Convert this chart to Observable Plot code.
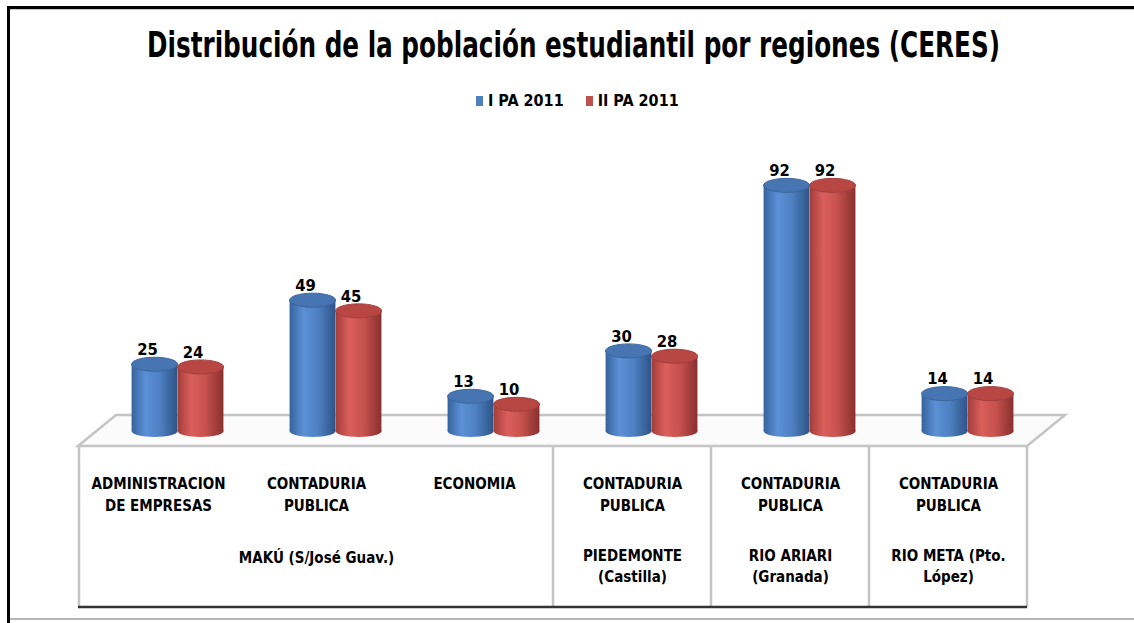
<!DOCTYPE html>
<html><head><meta charset="utf-8">
<script src="https://cdn.jsdelivr.net/npm/d3@7"></script>
<script src="https://cdn.jsdelivr.net/npm/@observablehq/plot@0.6"></script>
<style>
body{margin:0;background:#fff;}
#wrap{position:relative;width:1134px;height:623px;overflow:hidden;font-family:"Liberation Sans Narrow","DejaVu Sans Condensed","Liberation Sans",sans-serif;color:#000;}
#header{height:120px;position:relative;}
#title{position:absolute;left:147px;top:23px;font-weight:bold;font-size:35px;line-height:44px;white-space:nowrap;transform-origin:left center;}
#legend{position:absolute;top:91px;left:476px;display:flex;align-items:center;font-weight:bold;font-size:16px;white-space:nowrap;}
#legend .item{display:flex;align-items:center;margin-right:22px;}
#legend .sw{display:inline-block;width:7px;height:10px;margin-right:5px;}
.deco{position:absolute;}
svg{display:block;}
</style></head>
<body>
<div id="wrap">
  <div id="header"><div id="title"></div><div id="legend"></div></div>
  <div id="chart"></div>
  <div class="deco" style="left:7px;top:6px;width:1127px;height:3px;background:#000"></div>
  <div class="deco" style="left:10px;top:9px;width:1124px;height:1px;background:#c8c8c8"></div>
  <div class="deco" style="left:7px;top:6px;width:3px;height:617px;background:#000"></div>
  <div class="deco" style="left:10px;top:618px;width:1124px;height:2px;background:#b4b4b4"></div>
</div>
<script>
// ---- data ----
const titleText = "Distribución de la población estudiantil por regiones (CERES)";
const series = ["I PA 2011", "II PA 2011"];
const seriesColors = ["#4F81BD", "#C0504D"];
const programs = ["ADMINISTRACION\nDE EMPRESAS", "CONTADURIA\nPUBLICA", "ECONOMIA", "CONTADURIA\nPUBLICA", "CONTADURIA\nPUBLICA", "CONTADURIA\nPUBLICA"];
const regions = ["MAKÚ (S/José Guav.)", "MAKÚ (S/José Guav.)", "MAKÚ (S/José Guav.)", "PIEDEMONTE\n(Castilla)", "RIO ARIARI\n(Granada)", "RIO META (Pto.\nLópez)"];
const ipa2011 = [25, 49, 13, 30, 92, 14];
const iipa2011 = [24, 45, 10, 28, 92, 14];

const rows = programs.map((p, i) => ({key: String(i), program: p, region: regions[i], ipa: ipa2011[i], iipa: iipa2011[i]}));
// region spans
const spans = [];
regions.forEach((r, i) => {
  if (i > 0 && regions[i - 1] === r) spans[spans.length - 1].end = i;
  else spans.push({label: r, start: i, end: i});
});
const regionLabels = spans.map(s => ({key: String(Math.floor((s.start + s.end) / 2)), label: s.label, lines: s.label.split("\n").length}));

// ---- layout (styles) ----
const W = 1134, H = 503, mL = 78, mR = 107, mT = 44, mB = 192;
const colW = (W - mL - mR) / programs.length;
const barW = 46, pairOffset = -3.5; // blue bar centre relative to column centre
const blueL = colW / 2 + pairOffset - barW / 2;
const insets = [
  {insetLeft: blueL, insetRight: colW - blueL - barW},
  {insetLeft: blueL + barW, insetRight: colW - blueL - 2 * barW}
];
const fields = ["ipa", "iipa"];
const font = '"Liberation Sans Narrow","DejaVu Sans Condensed","Liberation Sans",sans-serif';

// header
const t = document.getElementById("title");
t.textContent = titleText;
const leg = document.getElementById("legend");
series.forEach((s, i) => {
  const it = document.createElement("div"); it.className = "item";
  const sw = document.createElement("span"); sw.className = "sw"; sw.style.background = seriesColors[i];
  const tx = document.createElement("span"); tx.textContent = s;
  it.append(sw, tx); leg.append(it);
});

function floorAndTable(index, scales, values, dims) {
  const {width, marginLeft, marginRight} = dims;
  const xL = marginLeft, xR = width - marginRight, y0 = scales.y(0);
  const yFront = y0 + 15, yBack = y0 - 16, depth = 38, yBottom = y0 + 176;
  const g = d3.create("svg:g");
  g.append("polygon")
    .attr("points", [[xL, yFront], [xL + depth, yBack], [xR + depth, yBack], [xR, yFront]].map(p => p.join(",")).join(" "))
    .attr("fill", "#fbfbfb").attr("stroke", "#c4c4c4").attr("stroke-width", 2.5);
  const xs = spans.map(s => scales.x(String(s.start))).concat([xR]);
  xs.forEach(x => g.append("line").attr("x1", x).attr("x2", x).attr("y1", yFront).attr("y2", yBottom)
    .attr("stroke", "#c4c4c4").attr("stroke-width", 2.5));
  g.append("line").attr("x1", xL).attr("x2", xR).attr("y1", yBottom).attr("y2", yBottom)
    .attr("stroke", "#333").attr("stroke-width", 2.5);
  const defs = g.append("defs");
  const grads = [
    ["#36639c", "#5b90d6", "#4f82c4", "#2e5487"],
    ["#a23d3a", "#da5f5b", "#c8524e", "#88302e"]
  ];
  grads.forEach((c, i) => {
    const lg = defs.append("linearGradient").attr("id", "cyl" + i).attr("x1", 0).attr("x2", 1).attr("y1", 0).attr("y2", 0);
    [[0, c[0]], [0.3, c[1]], [0.6, c[2]], [1, c[3]]].forEach(([o, col]) => lg.append("stop").attr("offset", o).attr("stop-color", col));
  });
  return g.node();
}

function caps(index, scales, values, dims) {
  const g = d3.create("svg:g");
  const tops = ["#4675b2", "#b84744"];
  const edges = ["#3a659d", "#a23e3b"];
  rows.forEach(r => {
    fields.forEach((f, i) => {
      const x0 = scales.x(r.key) + insets[i].insetLeft;
      const cx = x0 + barW / 2;
      const yt = scales.y(r[f]), yb = scales.y(0);
      g.append("ellipse").attr("cx", cx).attr("cy", yb).attr("rx", barW / 2).attr("ry", 6).attr("fill", `url(#cyl${i})`);
      g.append("ellipse").attr("cx", cx).attr("cy", yt).attr("rx", barW / 2).attr("ry", 7)
        .attr("fill", tops[i]).attr("stroke", edges[i]).attr("stroke-width", 1);
    });
  });
  return g.node();
}

const plot = Plot.plot({
  width: W, height: H,
  marginLeft: mL, marginRight: mR, marginTop: mT, marginBottom: mB,
  x: {domain: rows.map(d => d.key), padding: 0, axis: null},
  y: {domain: [0, 100], axis: null},
  style: {fontFamily: font, overflow: "visible", background: "transparent"},
  marks: [
    floorAndTable,
    Plot.barY(rows, {x: "key", y: "ipa", fill: "url(#cyl0)", ...insets[0]}),
    Plot.barY(rows, {x: "key", y: "iipa", fill: "url(#cyl1)", ...insets[1]}),
    caps,
    Plot.text(rows, {x: "key", y: "ipa", text: "ipa", dx: pairOffset - 7.5, dy: -15, fontSize: 16.5, fontWeight: "bold", fill: "#000"}),
    Plot.text(rows, {x: "key", y: "iipa", text: "iipa", dx: pairOffset + barW - 8, dy: -15, fontSize: 16.5, fontWeight: "bold", fill: "#000"}),
    Plot.text(rows, {x: "key", frameAnchor: "bottom", text: "program", lineAnchor: "top", lineHeight: 1.45, dy: 42, fontSize: 15, fontWeight: "bold", fill: "#000"}),
    Plot.text(regionLabels.filter(d => d.lines === 1), {x: "key", frameAnchor: "bottom", text: "label", lineAnchor: "middle", dy: 127, fontSize: 15, fontWeight: "bold", fill: "#000"}),
    Plot.text(regionLabels.filter(d => d.lines > 1), {x: "key", frameAnchor: "bottom", text: "label", lineAnchor: "middle", lineHeight: 1.45, dy: 133, fontSize: 15, fontWeight: "bold", fill: "#000"})
  ]
});
document.getElementById("chart").append(plot);

// fit title width to reference span
const tw = t.getBoundingClientRect().width;
t.style.transform = `scaleX(${853 / tw})`;
</script>
</body></html>
